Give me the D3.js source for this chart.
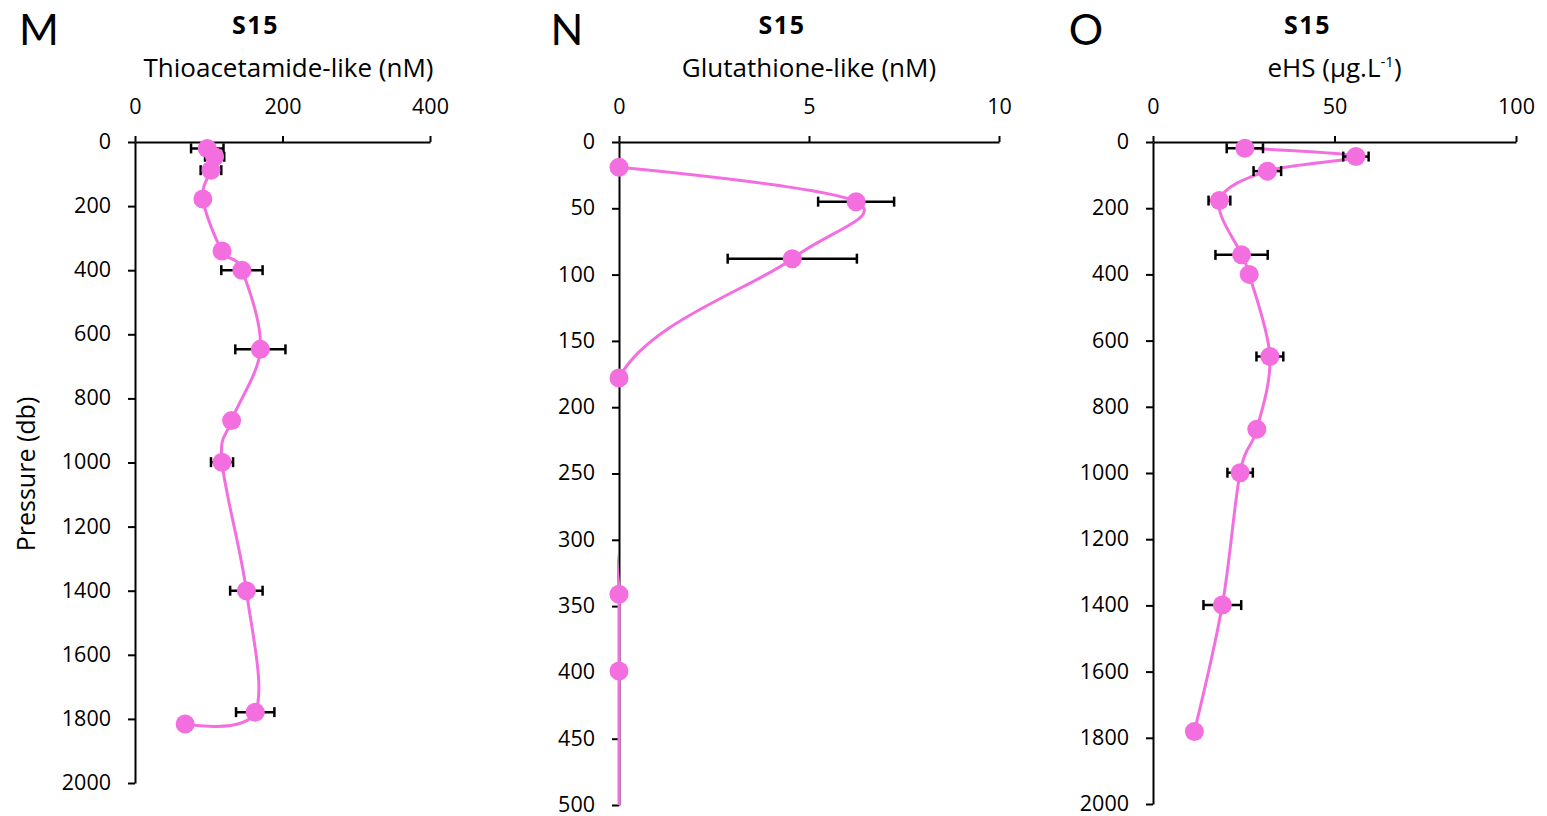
<!DOCTYPE html>
<html>
<head>
<meta charset="utf-8">
<script src="https://cdn.jsdelivr.net/npm/d3@7"></script>
<style>
  body { margin: 0; background: #fff; }
  svg { display: block; font-family: "Open Sans", Lato, sans-serif; }
</style>
</head>
<body>
<div id="chart"></div>
<script>
// data (pressure in db)
const thioDepths = [20, 46, 88, 178, 340, 400, 647, 869, 999, 1400, 1779, 1816];
const thioValues = [98, 108, 103, 92, 118, 145, 170, 131, 118, 151, 163, 68];
const thioErrors = [22, 13, 14, 0, 0, 28, 34, 0, 15, 22, 26, 0];

const glutDepths = [19, 45, 88, 178, 341, 399, 648, 869, 999, 1400, 1780];
const glutValues = [0, 6.24, 4.56, 0, 0, 0, 0, 0, 0, 0, 0];
const glutErrors = [0, 1.0, 1.7, 0, 0, 0, 0, 0, 0, 0, 0];

const ehsDepths = [19, 44, 88, 177, 341, 400, 648, 868, 999, 1399, 1781];
const ehsValues = [25.3, 55.9, 31.5, 18.3, 24.4, 26.5, 32.2, 28.6, 24, 19.1, 11.4];
const ehsErrors = [5, 3.5, 3.8, 3, 7.2, 0, 3.7, 0, 3.5, 5.2, 0];

const thioTicksX = [0, 200, 400];
const glutTicksX = [0, 5, 10];
const ehsTicksX = [0, 50, 100];
const thioTicksY = [0, 200, 400, 600, 800, 1000, 1200, 1400, 1600, 1800, 2000];
const glutTicksY = [0, 50, 100, 150, 200, 250, 300, 350, 400, 450, 500];
const ehsTicksY = thioTicksY;

const pink = '#F36FE0';

const width = 1547, height = 816;
const svg = d3.select('#chart').append('svg')
  .attr('width', width)
  .attr('height', height);

const panels = [
  { letter: 'M', letterX: 39, title: 'Thioacetamide-like (nM)', titleDx: 6, x0: 135, x1: 430, y0: 142, y1: 783,
    xMax: 400, yMax: 2000, xTicks: thioTicksX, yTicks: thioTicksY,
    depths: thioDepths, values: thioValues, errors: thioErrors },
  { letter: 'N', letterX: 567, title: 'Glutathione-like (nM)', titleDx: 0, x0: 619, x1: 999, y0: 142, y1: 805,
    xMax: 10, yMax: 500, xTicks: glutTicksX, yTicks: glutTicksY,
    depths: glutDepths, values: glutValues, errors: glutErrors },
  { letter: 'O', letterX: 1086, title: 'eHS', titleDx: 0, x0: 1153, x1: 1516, y0: 142, y1: 804,
    xMax: 100, yMax: 2000, xTicks: ehsTicksX, yTicks: ehsTicksY,
    depths: ehsDepths, values: ehsValues, errors: ehsErrors }
];

panels.forEach((p, i) => {
  const x = d3.scaleLinear().domain([0, p.xMax]).range([p.x0, p.x1]);
  const y = d3.scaleLinear().domain([0, p.yMax]).range([p.y0, p.y1]);
  const g = svg.append('g');
  const mid = (p.x0 + p.x1) / 2;

  // panel letter, station, axis title
  g.append('text').attr('x', p.letterX).attr('y', 45)
    .attr('text-anchor', 'middle').attr('font-size', 43)
    .attr('font-family', 'Lato, sans-serif').text(p.letter);
  g.append('text').attr('x', mid - 27).attr('y', 34)
    .attr('text-anchor', 'middle').attr('font-size', 25).attr('font-weight', 'bold')
    .attr('letter-spacing', 1.5).text('S15');
  const t = g.append('text').attr('x', mid + p.titleDx).attr('y', 77)
    .attr('text-anchor', 'middle').attr('font-size', 26).text(p.title);
  if (p.letter == 'O') {
    t.append('tspan').text(' (µg.L');
    t.append('tspan').attr('font-size', 15).attr('dy', -10).text('-1');
    t.append('tspan').attr('dy', 10).text(')');
  }

  // axes
  const xAxis = g.append('g').attr('transform', `translate(0,${p.y0})`)
    .call(d3.axisTop(x).tickValues(p.xTicks).tickFormat(d3.format('d'))
      .tickSize(6).tickSizeOuter(0).tickPadding(22));
  const yAxis = g.append('g').attr('transform', `translate(${p.x0},0)`)
    .call(d3.axisLeft(y).tickValues(p.yTicks).tickFormat(d3.format('d'))
      .tickSize(7).tickSizeOuter(0).tickPadding(17));
  [xAxis, yAxis].forEach(a => {
    a.selectAll('path, line').attr('stroke', '#000').attr('stroke-width', 2);
    a.selectAll('text').attr('font-size', 21.5).attr('fill', '#000')
      .attr('font-family', '"Open Sans", sans-serif');
  });
  yAxis.selectAll('text').attr('dy', '0.3em');

  // clip the line to the plot area, like the original
  const clipId = 'clip' + i;
  svg.append('clipPath').attr('id', clipId).append('rect')
    .attr('x', p.x0 - 2).attr('y', p.y0 - 12)
    .attr('width', p.x1 - p.x0 + 14).attr('height', p.y1 - p.y0 + 12);

  const pts = p.depths.map((d, k) => ({ depth: d, value: p.values[k], err: p.errors[k] }));
  const shown = pts.filter(d => d.depth <= p.yMax);
  const plot = g.append('g').attr('clip-path', `url(#${clipId})`);

  const line = d3.line()
    .x(d => x(d.value))
    .y(d => y(d.depth))
    .curve(d3.curveCardinal.tension(0));

  plot.append('path').datum(pts)
    .attr('d', line)
    .attr('fill', 'none')
    .attr('stroke', pink)
    .attr('stroke-width', 3);

  // error bars
  const bars = g.selectAll('.err').data(shown.filter(d => d.err > 0)).enter().append('g')
    .attr('stroke', '#000').attr('stroke-width', 2.5);
  bars.append('line')
    .attr('x1', d => x(d.value - d.err)).attr('x2', d => x(d.value + d.err))
    .attr('y1', d => y(d.depth)).attr('y2', d => y(d.depth));
  bars.append('line')
    .attr('x1', d => x(d.value - d.err)).attr('x2', d => x(d.value - d.err))
    .attr('y1', d => y(d.depth) - 5).attr('y2', d => y(d.depth) + 5);
  bars.append('line')
    .attr('x1', d => x(d.value + d.err)).attr('x2', d => x(d.value + d.err))
    .attr('y1', d => y(d.depth) - 5).attr('y2', d => y(d.depth) + 5);

  g.selectAll('circle').data(shown).enter().append('circle')
    .attr('cx', d => x(d.value))
    .attr('cy', d => y(d.depth))
    .attr('r', 9.5)
    .attr('fill', pink);
});

// shared y title
svg.append('text')
  .attr('transform', 'translate(35,474) rotate(-90)')
  .attr('text-anchor', 'middle')
  .attr('font-size', 25)
  .text('Pressure (db)');
</script>
</body>
</html>
